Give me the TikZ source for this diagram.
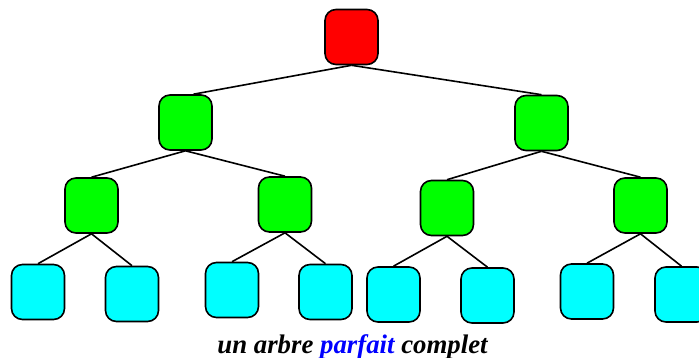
\documentclass[tikz,border=0pt]{standalone}
\usepackage{fontspec}
\setmainfont{Liberation Serif}
\begin{document}
\begin{tikzpicture}[x=1pt,y=-1pt,
  box/.style={draw=black,line width=1.6pt,rounded corners=11pt,minimum width=53pt,minimum height=55pt,inner sep=0pt},
  rootbox/.style={box,fill={rgb,255:red,255;green,0;blue,0}},
  midbox/.style={box,fill={rgb,255:red,0;green,255;blue,0}},
  leafbox/.style={box,fill={rgb,255:red,0;green,255;blue,255}},
  edge/.style={draw=black,line width=1.6pt}]
\useasboundingbox (0,0) rectangle (699,358);
\node[rootbox] (r) at (351.5,37) {};
\node[midbox] (a) at (185.5,122.5) {};
\node[midbox] (b) at (541.5,123) {};
\node[midbox] (aa) at (91.5,205.5) {};
\node[midbox] (ab) at (285,204.5) {};
\node[midbox] (ba) at (447,208) {};
\node[midbox] (bb) at (640.5,205.5) {};
\node[leafbox] (l1) at (38,292) {};
\node[leafbox] (l2) at (132,294) {};
\node[leafbox] (l3) at (232,290) {};
\node[leafbox] (l4) at (325.5,292) {};
\node[leafbox] (l5) at (393.5,294.5) {};
\node[leafbox] (l6) at (487.5,295.5) {};
\node[leafbox] (l7) at (587,291.5) {};
\node[leafbox] (l8) at (681.5,294.5) {};
\draw[edge] (r.south) -- ([xshift=8pt]a.north);
\draw[edge] (r.south) -- (b.north);
\draw[edge] (a.south) -- (aa.north);
\draw[edge] (a.south) -- (ab.north);
\draw[edge] (b.south) -- (ba.north);
\draw[edge] (b.south) -- (bb.north);
\draw[edge] (aa.south) -- (l1.north);
\draw[edge] (aa.south) -- (l2.north);
\draw[edge] (ab.south) -- (l3.north);
\draw[edge] (ab.south) -- (l4.north);
\draw[edge] (ba.south) -- (l5.north);
\draw[edge] (ba.south) -- (l6.north);
\draw[edge] (bb.south) -- (l7.north);
\draw[edge] (bb.south) -- (l8.north);
\node[anchor=base,inner sep=0pt,font=\fontsize{26.8}{30}\selectfont\bfseries\itshape] (cap) at (352.5,353) {un arbre \textcolor{blue}{parfait} complet};
\end{tikzpicture}
\end{document}
